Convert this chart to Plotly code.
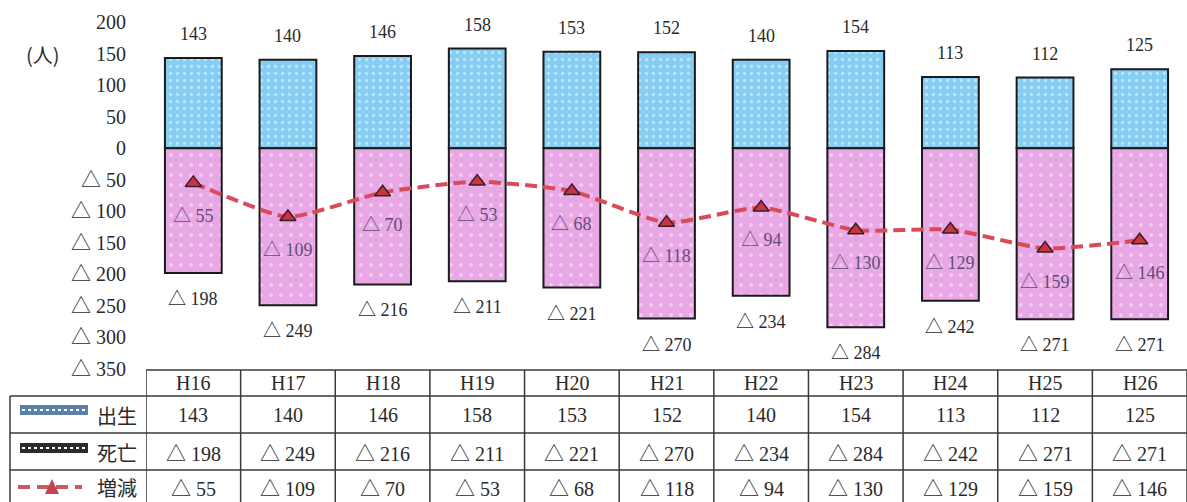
import plotly.graph_objects as go

# Data
years = ["H16", "H17", "H18", "H19", "H20", "H21", "H22", "H23", "H24", "H25", "H26"]
births = [143, 140, 146, 158, 153, 152, 140, 154, 113, 112, 125]
deaths = [198, 249, 216, 211, 221, 270, 234, 284, 242, 271, 271]
change = [55, 109, 70, 53, 68, 118, 94, 130, 129, 159, 146]
tick_values = [200, 150, 100, 50, 0, -50, -100, -150, -200, -250, -300, -350]

W, H = 1187, 502
L = 146  # left margin (table legend column sits here)
n = len(years)

SERIF = "Liberation Serif, DejaVu Serif, Noto Sans CJK JP, serif"
JP = "Noto Sans CJK JP, sans-serif"
TXT = "#2a2a2a"
BLUE = "#86cdf4"
PINK = "#e8a8e6"


def tri(v):
    if v < 0:
        return f'<span style="font-family:Noto Sans CJK JP">\u25b3</span> {abs(v)}'
    return str(v)


def px_x(px):
    return (px - L) / (W - L)


def px_y(py):
    return 1 - py / H


x = list(range(n))
neg_deaths = [-d for d in deaths]
neg_change = [-c for c in change]

fig = go.Figure()

fig.add_trace(go.Bar(
    x=x, y=births, width=0.6, name="出生",
    marker=dict(color=BLUE, line=dict(color="#1a1a1a", width=2),
                pattern=dict(shape=".", fgcolor="white", bgcolor=BLUE, fgopacity=0.45,
                             size=7, solidity=0.18, fillmode="replace")),
))
fig.add_trace(go.Bar(
    x=x, y=neg_deaths, width=0.6, name="死亡",
    marker=dict(color=PINK, line=dict(color="#1a1a1a", width=2),
                pattern=dict(shape=".", fgcolor="white", bgcolor=PINK, fgopacity=0.4,
                             size=10, solidity=0.12, fillmode="replace")),
))
fig.add_trace(go.Scatter(
    x=x, y=neg_change, mode="lines+markers", name="増減",
    line=dict(color="#d94b58", width=4, dash="12px,6px", shape="spline", smoothing=0.5),
    marker=dict(symbol="triangle-up", size=14, color="#c8343f",
                line=dict(color="#3a1d2a", width=1.5)),
))

annotations = []


def note(**kw):
    kw.setdefault("showarrow", False)
    kw.setdefault("xanchor", "center")
    kw.setdefault("yanchor", "middle")
    annotations.append(kw)


# value labels on the chart
for i in range(n):
    note(x=i, y=births[i], xref="x", yref="y", text=tri(births[i]), yshift=24,
         font=dict(family=SERIF, size=18, color=TXT))
    note(x=i, y=neg_deaths[i], xref="x", yref="y", text=tri(neg_deaths[i]), yshift=-24,
         font=dict(family=SERIF, size=18, color=TXT))
    note(x=i, y=neg_change[i], xref="x", yref="y", text=tri(neg_change[i]), yshift=-31,
         font=dict(family=SERIF, size=18, color="#654c78"))

# unit label
note(x=px_x(43), y=px_y(54), xref="paper", yref="paper", text="(人)",
     font=dict(family=JP, size=20, color=TXT))

# data table below the chart
row_lines = [370, 396, 433, 470]
row_centers = [383, 415, 452, 487]
table_rows = [years, [tri(v) for v in births], [tri(v) for v in neg_deaths], [tri(v) for v in neg_change]]
for r, row in enumerate(table_rows):
    for i, val in enumerate(row):
        note(x=i, y=px_y(row_centers[r]), xref="x", yref="paper", text=val,
             font=dict(family=SERIF, size=20, color=TXT))

legend_names = ["出生", "死亡", "増減"]
for k, name in enumerate(legend_names):
    note(x=px_x(117), y=px_y(row_centers[k + 1]), xref="paper", yref="paper",
         text=name, font=dict(family=JP, size=20, color=TXT))

shapes = []
line_style = dict(color="#3a3a3a", width=1.5)
# horizontal rules
shapes.append(dict(type="line", xref="paper", yref="paper", x0=px_x(L), x1=1,
                   y0=px_y(row_lines[0]), y1=px_y(row_lines[0]), line=line_style))
for py in row_lines[1:]:
    shapes.append(dict(type="line", xref="paper", yref="paper", x0=px_x(10), x1=1,
                       y0=px_y(py), y1=px_y(py), line=line_style))
# vertical rules
for i in range(n + 1):
    shapes.append(dict(type="line", xref="x", yref="paper", x0=i - 0.5, x1=i - 0.5,
                       y0=px_y(row_lines[0]), y1=0, line=line_style))
shapes.append(dict(type="line", xref="paper", yref="paper", x0=px_x(10), x1=px_x(10),
                   y0=px_y(row_lines[1]), y1=0, line=line_style))

# legend swatches
shapes.append(dict(type="rect", xref="paper", yref="paper", x0=px_x(20), x1=px_x(88),
                   y0=px_y(415), y1=px_y(405), fillcolor="#5a82a6", line=dict(width=0)))
shapes.append(dict(type="line", xref="paper", yref="paper", x0=px_x(22), x1=px_x(86),
                   y0=px_y(410), y1=px_y(410), line=dict(color="white", width=2, dash="dot")))
shapes.append(dict(type="rect", xref="paper", yref="paper", x0=px_x(20), x1=px_x(88),
                   y0=px_y(453), y1=px_y(443), fillcolor="#2b2b2b", line=dict(width=0)))
shapes.append(dict(type="line", xref="paper", yref="paper", x0=px_x(22), x1=px_x(86),
                   y0=px_y(448), y1=px_y(448), line=dict(color="white", width=2, dash="dot")))
shapes.append(dict(type="line", xref="paper", yref="paper", x0=px_x(18), x1=px_x(82),
                   y0=px_y(487), y1=px_y(487), line=dict(color="#c85a64", width=4, dash="12px,7px")))
tx0, tx1, txm = px_x(45), px_x(59), px_x(52)
ty0, ty1 = px_y(494), px_y(479)
shapes.append(dict(type="path", xref="paper", yref="paper",
                   path=f"M {tx0} {ty0} L {tx1} {ty0} L {txm} {ty1} Z",
                   fillcolor="#c0454f", line=dict(width=0)))

# y range chosen so 200 sits at 22px and -350 at 369px on a 502px plot
ppu = (369 - 22) / 550
y_top = 200 + 22 / ppu
y_bot = -350 - (H - 369) / ppu

fig.update_layout(
    width=W, height=H,
    margin=dict(l=L, r=0, t=0, b=0),
    paper_bgcolor="white", plot_bgcolor="white",
    barmode="relative", bargap=0.4,
    showlegend=False,
    xaxis=dict(range=[-0.5, n - 0.5], visible=False, fixedrange=True),
    yaxis=dict(range=[y_bot, y_top], tickvals=tick_values,
               ticktext=[tri(v) for v in tick_values],
               showgrid=False, zeroline=False, showline=False, ticks="",
               ticklabelstandoff=19,
               tickfont=dict(family=SERIF, size=20, color=TXT)),
    annotations=annotations,
    shapes=shapes,
)

fig.write_html("out.html")
